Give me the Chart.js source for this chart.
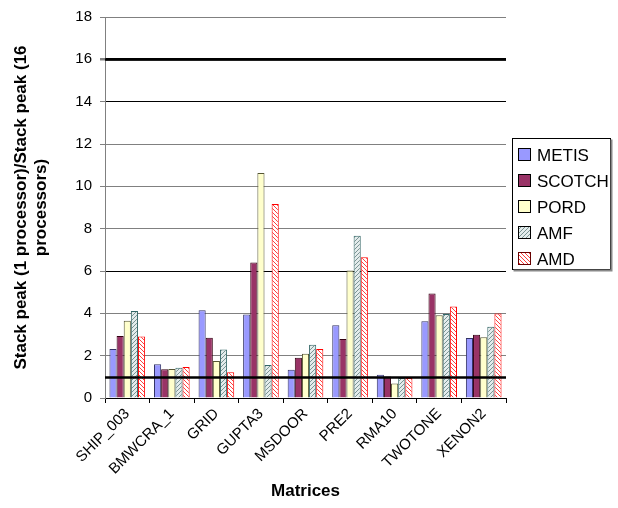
<!DOCTYPE html>
<html>
<head>
<meta charset="utf-8">
<script src="https://cdn.jsdelivr.net/npm/chart.js@4"></script>
<style>
html,body{margin:0;padding:0;background:#fff;}
#wrap{width:618px;height:508px;position:relative;}
</style>
</head>
<body>
<div id="wrap"><canvas id="c" width="618" height="508"></canvas></div>
<script>
const categories = ['SHIP_003','BMWCRA_1','GRID','GUPTA3','MSDOOR','PRE2','RMA10','TWOTONE','XENON2'];
const metis  = [2.32, 1.59, 4.15, 3.94, 1.34, 3.44, 1.10, 3.63, 2.84];
const scotch = [2.93, 1.36, 2.85, 6.40, 1.90, 2.79, 1.02, 4.94, 2.99];
const pord   = [3.65, 1.37, 1.75, 10.63, 2.09, 6.02, 0.69, 3.91, 2.87];
const amf    = [4.11, 1.43, 2.29, 1.56, 2.52, 7.67, 0.95, 3.97, 3.37];
const amd    = [2.90, 1.46, 1.22, 9.16, 2.31, 6.65, 0.95, 4.32, 3.99];
const seriesNames = ['METIS','SCOTCH','PORD','AMF','AMD'];
const yTicks = [0,2,4,6,8,10,12,14,16,18];
const referenceLines = [1, 16];

const FONT = '"Liberation Sans", Arial, sans-serif';

function hatch(bg, fg, dir) {
  const c = document.createElement('canvas');
  c.width = 4; c.height = 4;
  const x = c.getContext('2d');
  x.fillStyle = bg; x.fillRect(0,0,4,4);
  x.fillStyle = fg;
  for (let i = 0; i < 4; i++) {
    const px = dir > 0 ? (3 - i) : i;
    x.fillRect(px, i, 1, 1);
  }
  return x.createPattern(c, 'repeat');
}
const ctx = document.getElementById('c').getContext('2d');
const amfPat = hatch('#e4ecec', '#7a9494', 1);
const amdPat = hatch('#ffffff', '#ff4040', -1);

const fills = ['#9999ff', '#993366', '#ffffcc', amfPat, amdPat];
const borders = ['#333366', '#330011', '#555533', '#336666', '#ff0000'];
const data = [metis, scotch, pord, amf, amd];

const refPlugin = {
  id: 'refLines',
  afterDatasetsDraw(chart) {
    const {ctx, chartArea, scales} = chart;
    ctx.save();
    ctx.strokeStyle = '#000';
    ctx.lineWidth = 2.5;
    referenceLines.forEach(v => {
      const y = Math.round(scales.y.getPixelForValue(v)) + 0.5;
      ctx.beginPath();
      ctx.moveTo(chartArea.left, y);
      ctx.lineTo(chartArea.right, y);
      ctx.stroke();
    });
    ctx.restore();
  }
};

const legendPlugin = {
  id: 'boxLegend',
  afterDraw(chart) {
    const c = chart.ctx;
    c.save();
    const bx = 512.5, by = 138.5, bw = 98, bh = 131;
    c.fillStyle = '#fff';
    c.fillRect(bx, by, bw, bh);
    c.strokeStyle = '#000';
    c.lineWidth = 1;
    c.strokeRect(bx, by, bw, bh);
    c.strokeStyle = '#888';
    c.lineWidth = 2;
    c.beginPath();
    c.moveTo(bx + 1, by + bh + 1); c.lineTo(bx + bw + 1, by + bh + 1); c.lineTo(bx + bw + 1, by + 1);
    c.stroke();
    c.font = '17px ' + FONT;
    c.textBaseline = 'middle';
    chart.data.datasets.forEach((ds, i) => {
      const cy = 155 + i * 26;
      c.fillStyle = ds.backgroundColor;
      c.fillRect(518, cy - 6, 12, 12);
      c.strokeStyle = ds.borderColor === '#ff0000' ? '#660000' : '#000';
      c.lineWidth = 1;
      c.strokeRect(518.5, cy - 6.5, 12, 12);
      c.fillStyle = '#000';
      c.fillText(ds.label, 537, cy + 1);
    });
    c.restore();
  }
};

const gridColor = v => {
  if (v === 6 || v === 14 || v === 16) return '#000000';
  if (v === 0) return 'rgba(0,0,0,0)';
  return '#808080';
};

new Chart(ctx, {
  type: 'bar',
  data: {
    labels: categories,
    datasets: seriesNames.map((n, i) => ({
      label: n,
      data: data[i],
      backgroundColor: fills[i],
      borderColor: borders[i],
      borderWidth: 1,
      categoryPercentage: 0.8,
      barPercentage: 1.0
    }))
  },
  options: {
    responsive: false,
    animation: false,
    devicePixelRatio: 1,
    layout: { padding: { left: 0, right: 112, top: 3, bottom: 4 } },
    plugins: { legend: { display: false }, tooltip: { enabled: false } },
    scales: {
      x: {
        afterFit: s => { s.height = 106; },
        grid: { offset: true, drawOnChartArea: false, drawTicks: true, tickLength: 5, color: '#000' },
        border: { color: '#000', width: 1 },
        ticks: {
          maxRotation: 45, minRotation: 45, color: '#000', padding: 2,
          font: { size: 15, family: FONT }
        },
        title: {
          display: true, text: 'Matrices', color: '#000', padding: { top: 4, bottom: 2 },
          font: { size: 17, weight: 'bold', family: FONT }
        }
      },
      y: {
        min: 0, max: 18,
        afterBuildTicks: s => { s.ticks = yTicks.map(v => ({ value: v })); },
        afterFit: s => { s.width = 105; },
        grid: {
          color: c => gridColor(c.tick.value),
          lineWidth: c => (c.tick.value === 16 ? 2.5 : 1),
          tickColor: '#808080',
          tickLength: 5
        },
        border: { color: '#808080', width: 1 },
        ticks: {
          color: '#000', padding: 8,
          font: { size: 15, family: FONT }
        },
        title: {
          display: true,
          text: ['Stack peak (1 processor)/Stack peak (16', 'processors)'],
          color: '#000', padding: { top: 12, bottom: 4 },
          font: { size: 17, weight: 'bold', family: FONT, lineHeight: 1.15 }
        }
      }
    }
  },
  plugins: [refPlugin, legendPlugin]
});
</script>
</body>
</html>
